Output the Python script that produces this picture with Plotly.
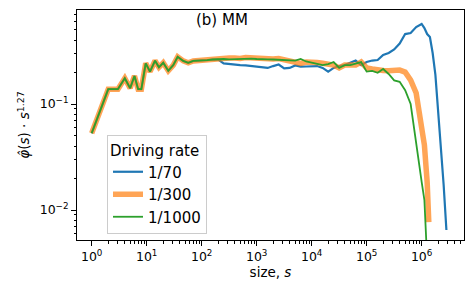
import plotly.graph_objects as go

# ---- data ----
size_base = [1, 2, 3, 4, 5, 6, 7, 8, 9.6, 11.5, 14.2, 16.7, 20.0, 24.7, 30.5, 36.6, 46.2, 57.0, 70.3,
             100, 126, 158, 200, 251, 316, 398, 501, 631, 794,
             1000, 1259, 1585, 1995, 2512, 3162, 3981, 5012, 6310, 7943,
             1e4, 12589, 15849, 19953, 25119, 31623, 39811, 50119, 63096, 79433,
             1e5, 125893, 158489, 199526, 251189, 316228, 398107, 501187, 630957, 794328,
             1e6]

head_vals = [0.053, 0.138, 0.138, 0.175, 0.141, 0.184, 0.138, 0.138, 0.242, 0.202, 0.256, 0.222,
             0.245, 0.206, 0.233, 0.279, 0.255, 0.245, 0.255]

size_70 = size_base + [1.122e6, 1.259e6, 1.413e6, 1.585e6, 1.778e6, 1.995e6, 2.239e6, 2.512e6, 2.818e6]
size_300 = size_base + [1.122e6, 1.259e6, 1.349e6]
size_1000 = size_base + [1.122e6, 1.259e6]

phi_70 = head_vals + [
    0.256, 0.260, 0.263, 0.262, 0.242, 0.238, 0.236, 0.233, 0.231, 0.228,
    0.226, 0.223, 0.219, 0.228, 0.236, 0.217, 0.219, 0.231, 0.225, 0.226,
    0.228, 0.228, 0.219, 0.202, 0.219, 0.228, 0.233, 0.244, 0.257, 0.233,
    0.249, 0.257, 0.260, 0.290, 0.303, 0.327, 0.372, 0.457, 0.468, 0.532,
    0.569,
    0.521, 0.457, 0.428, 0.303, 0.188, 0.0878, 0.041, 0.0172, 0.00647]

phi_300 = head_vals + [
    0.260, 0.263, 0.266, 0.269, 0.269, 0.272, 0.272, 0.269, 0.275, 0.272,
    0.269, 0.272, 0.269, 0.266, 0.269, 0.263, 0.260, 0.255, 0.242, 0.249,
    0.250, 0.246, 0.242, 0.238, 0.233, 0.219, 0.233, 0.233, 0.233, 0.249,
    0.219, 0.214, 0.209, 0.207, 0.206, 0.206, 0.209, 0.200, 0.168, 0.127,
    0.0634,
    0.041, 0.0184, 0.0077]

phi_1000 = head_vals + [
    0.256, 0.260, 0.263, 0.266, 0.266, 0.264, 0.266, 0.268, 0.268, 0.268,
    0.266, 0.263, 0.264, 0.263, 0.262, 0.260, 0.260, 0.257, 0.266, 0.252,
    0.246, 0.238, 0.233, 0.238, 0.249, 0.219, 0.233, 0.233, 0.241, 0.249,
    0.202, 0.205, 0.197, 0.214, 0.192, 0.167, 0.162, 0.135, 0.100, 0.041,
    0.0184,
    0.0124, 0.00337]

series_names = ["1/70", "1/300", "1/1000"]
legend_title = "Driving rate"
panel_label = "(b) MM"

x_tick_vals = [1, 10, 100, 1e3, 1e4, 1e5, 1e6]
x_tick_text = ["10<sup>0</sup>", "10<sup>1</sup>", "10<sup>2</sup>", "10<sup>3</sup>",
               "10<sup>4</sup>", "10<sup>5</sup>", "10<sup>6</sup>"]
y_tick_vals = [0.01, 0.1]
y_tick_text = ["10<sup>−2</sup>", "10<sup>−1</sup>"]

FONT = "DejaVu Sans"

def minor_vals(lo_exp, hi_exp):
    return [m * 10.0 ** e for e in range(lo_exp, hi_exp) for m in range(2, 10)]

fig = go.Figure()
fig.add_trace(go.Scatter(x=size_70, y=phi_70, mode="lines", name=series_names[0],
                         line=dict(color="#1f77b4", width=2.2)))
fig.add_trace(go.Scatter(x=size_300, y=phi_300, mode="lines", name=series_names[1],
                         line=dict(color="rgba(255,127,14,0.7)", width=5.5)))
fig.add_trace(go.Scatter(x=size_1000, y=phi_1000, mode="lines", name=series_names[2],
                         line=dict(color="#2ca02c", width=1.8)))

axis_common = dict(
    type="log", showgrid=False, zeroline=False, automargin=False,
    showline=True, linecolor="black", linewidth=1, mirror=True,
    ticks="outside", ticklen=5, tickwidth=1, tickcolor="black",
    tickfont=dict(family=FONT, size=12.5, color="black"),
)

fig.update_xaxes(**axis_common, range=[-0.267, 6.77],
                 tickmode="array", tickvals=x_tick_vals, ticktext=x_tick_text,
                 minor=dict(tickmode="array", tickvals=minor_vals(0, 7), ticks="outside",
                            ticklen=2.5, tickwidth=0.8, tickcolor="black", showgrid=False),
                 title=dict(text="size, <i>s</i>", font=dict(family=FONT, size=13.5, color="black"),
                            standoff=4))
fig.update_yaxes(**axis_common, range=[-2.283, -0.113],
                 tickmode="array", tickvals=y_tick_vals, ticktext=y_tick_text,
                 minor=dict(tickmode="array", tickvals=minor_vals(-3, 0), ticks="outside",
                            ticklen=2.5, tickwidth=0.8, tickcolor="black", showgrid=False),
                 title=dict(text="<i>φ̂</i>(<i>s</i>) · <i>s</i><sup>1.27</sup>",
                            font=dict(family=FONT, size=13.5, color="black"), standoff=6))

fig.add_annotation(text=panel_label, xref="paper", yref="paper", x=0.375, y=0.955,
                   showarrow=False, font=dict(family=FONT, size=15, color="black"),
                   xanchor="center", yanchor="middle")

fig.update_layout(
    width=474, height=296,
    margin=dict(l=77, r=10, t=10, b=56),
    plot_bgcolor="white", paper_bgcolor="white",
    font=dict(family=FONT, color="black"),
    legend=dict(
        title=dict(text=legend_title, font=dict(family=FONT, size=15, color="black")),
        font=dict(family=FONT, size=15, color="black"),
        x=0.0775, y=0.4565, xanchor="left", yanchor="top",
        bgcolor="rgba(255,255,255,0.85)", bordercolor="#cccccc", borderwidth=1,
        tracegroupgap=0, itemwidth=30,
    ),
)

fig.write_html("out.html", config={"displayModeBar": False},
               post_script="document.body.style.margin='0px';")
